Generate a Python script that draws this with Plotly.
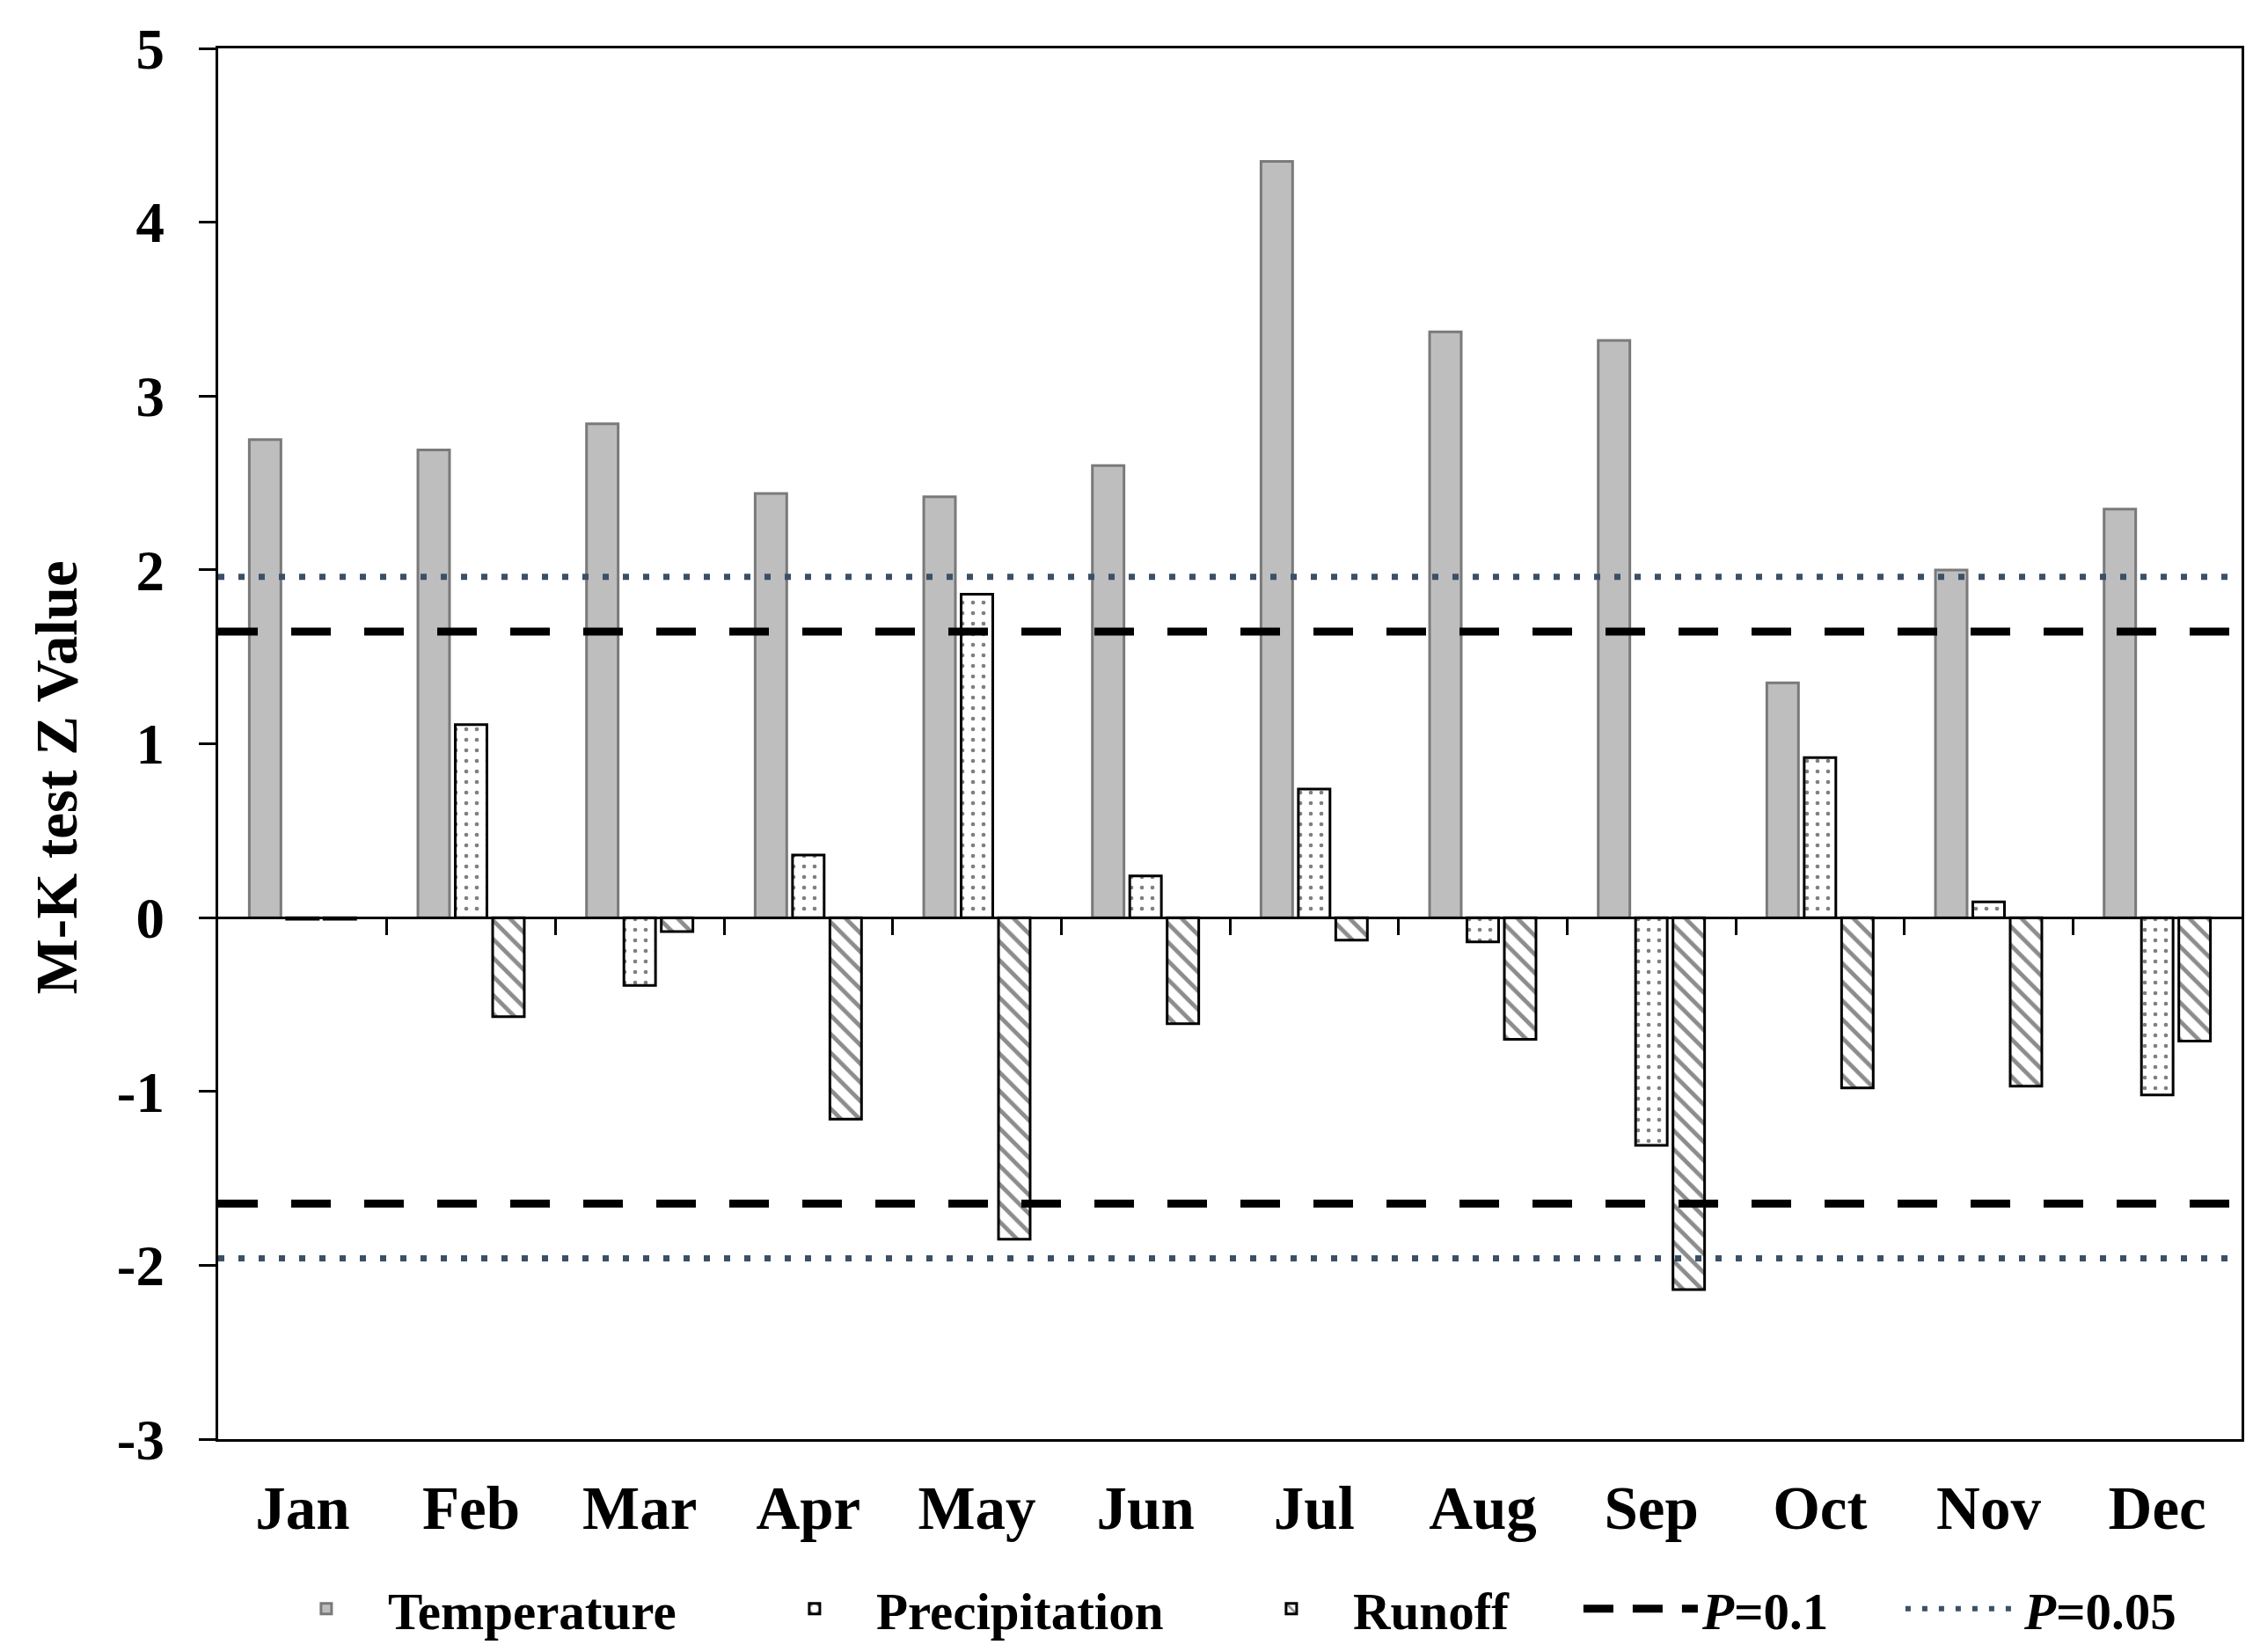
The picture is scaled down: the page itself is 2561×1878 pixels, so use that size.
import plotly.graph_objects as go

MONTHS = ["Jan", "Feb", "Mar", "Apr", "May", "Jun", "Jul", "Aug", "Sep", "Oct", "Nov", "Dec"]
TEMPERATURE = [2.75, 2.69, 2.84, 2.44, 2.42, 2.60, 4.35, 3.37, 3.32, 1.35, 2.00, 2.35]
PRECIPITATION = [-0.01, 1.11, -0.39, 0.36, 1.86, 0.24, 0.74, -0.14, -1.31, 0.92, 0.09, -1.02]
RUNOFF = [-0.01, -0.57, -0.08, -1.16, -1.85, -0.61, -0.13, -0.70, -2.14, -0.98, -0.97, -0.71]
P01 = 1.645
P005 = 1.96
Y_TICKS = [-3, -2, -1, 0, 1, 2, 3, 4, 5]
Y_TICK_LABELS = ["-3", "-2", "-1", "0", "1", "2", "3", "4", "5"]
Y_TITLE = "M-K test Z Value"

FONT = "Liberation Serif"
xs = list(range(len(MONTHS)))
x_lo, x_hi = -0.5, len(MONTHS) - 0.5

DASH_COLOR = "black"
DOT_COLOR = "#3B5066"

fig = go.Figure()
fig.add_trace(go.Bar(
    x=xs, y=TEMPERATURE, name="Temperature", legendwidth=410,
    marker=dict(color="#BEBEBE", line=dict(color="#7A7A7A", width=3)),
))
fig.add_trace(go.Bar(
    x=xs, y=PRECIPITATION, name="Precipitation", legendwidth=397,
    marker=dict(color="white", line=dict(color="black", width=3),
                pattern=dict(shape=".", fgcolor="black", bgcolor="white", size=12, solidity=0.12)),
))
fig.add_trace(go.Bar(
    x=xs, y=RUNOFF, name="Runoff", legendwidth=252,
    marker=dict(color="white", line=dict(color="black", width=3),
                pattern=dict(shape="\\", fgcolor="#1A1A1A", bgcolor="white", size=15, solidity=0.32)),
))

# significance lines (drawn)
for val in (P01, -P01):
    fig.add_trace(go.Scatter(
        x=[x_lo, x_hi], y=[val, val], mode="lines", showlegend=False, xaxis="x2",
        hoverinfo="skip", line=dict(color=DASH_COLOR, width=9, dash="45px,38px"),
    ))
for val in (P005, -P005):
    fig.add_trace(go.Scatter(
        x=[x_lo, x_hi], y=[val, val], mode="lines", showlegend=False, xaxis="x2",
        hoverinfo="skip", line=dict(color=DOT_COLOR, width=7, dash="7px,16px"),
    ))
# legend entries for the lines
fig.add_trace(go.Scatter(
    x=[None], y=[None], mode="lines", name="<i>P</i>=0.1", legendwidth=221, xaxis="x2",
    line=dict(color=DASH_COLOR, width=9, dash="34px,22px"),
))
fig.add_trace(go.Scatter(
    x=[None], y=[None], mode="lines", name="<i>P</i>=0.05", xaxis="x2",
    line=dict(color=DOT_COLOR, width=6, dash="6px,13px"),
))

ymin, ymax = Y_TICKS[0], Y_TICKS[-1]
zero_pos = (0 - ymin) / (ymax - ymin)

fig.update_layout(
    width=2561, height=1878,
    margin=dict(l=240, r=21, t=47, b=243),
    paper_bgcolor="white", plot_bgcolor="white",
    barmode="group", bargap=0.335, bargroupgap=0.154,
    font=dict(family=FONT, color="black", size=64, weight="bold"),
    xaxis=dict(
        range=[x_lo, x_hi], tickvals=xs, ticktext=MONTHS,
        ticks="", showline=True, linecolor="black", linewidth=3, mirror=True,
        showgrid=False, zeroline=False, ticklabelstandoff=16,
        tickfont=dict(family=FONT, size=69, weight="bold"),
    ),
    xaxis2=dict(
        range=[x_lo, x_hi], overlaying="x", anchor="free", position=zero_pos,
        tickvals=[i + 0.5 for i in xs[:-1]], ticks="outside", ticklen=18, tickwidth=3,
        tickcolor="black", showticklabels=False, showline=True, linecolor="black",
        linewidth=3, showgrid=False, zeroline=False,
    ),
    yaxis=dict(
        range=[ymin, ymax], tickvals=Y_TICKS, ticktext=Y_TICK_LABELS,
        ticks="outside", ticklen=19, tickwidth=3, tickcolor="black",
        showline=True, linecolor="black", linewidth=3, mirror=True,
        showgrid=False, zeroline=False, ticklabelstandoff=26,
        tickfont=dict(family=FONT, size=65, weight="bold"),
    ),
    legend=dict(
        orientation="h", x=0.023, xanchor="left", y=-0.122, yanchor="middle",
        font=dict(family=FONT, size=59, weight="bold"),
        itemwidth=130, bgcolor="rgba(0,0,0,0)",
    ),
    annotations=[dict(
        text=Y_TITLE, textangle=-90, xref="paper", yref="paper",
        x=-0.0800, y=0.4754, xanchor="center", yanchor="middle", showarrow=False,
        font=dict(family=FONT, size=67, weight="bold", color="black"),
    )],
)

fig.write_html("out.html")
